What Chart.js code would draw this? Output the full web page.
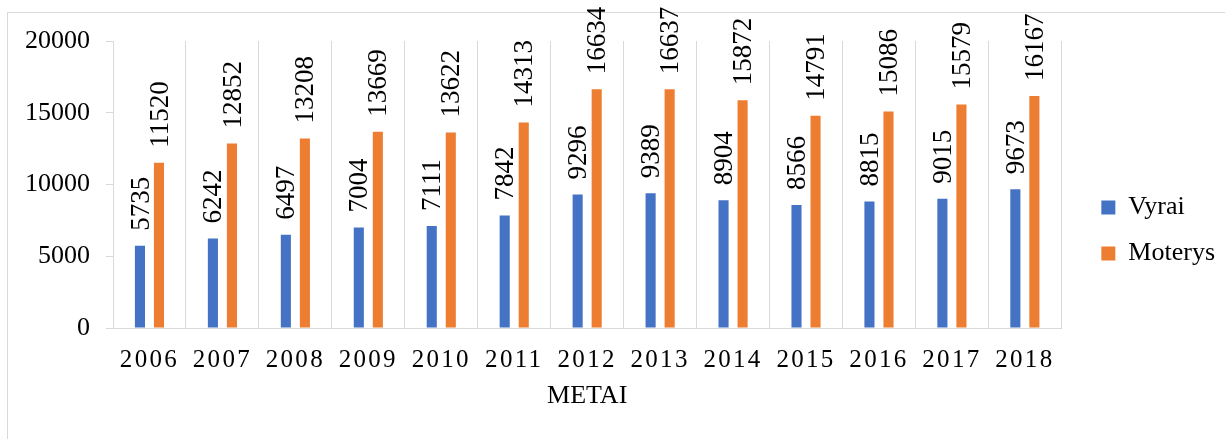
<!DOCTYPE html>
<html>
<head>
<meta charset="utf-8">
<script src="https://cdn.jsdelivr.net/npm/chart.js@4.4.1/dist/chart.umd.min.js"></script>
<style>
  html, body { margin: 0; padding: 0; background: #ffffff; }
  #wrap { position: absolute; left: 0; top: 0; width: 1225px; height: 439px; }
</style>
</head>
<body>
<div id="wrap"><canvas id="c" width="1225" height="439"></canvas></div>
<script>
const categories = ['2006','2007','2008','2009','2010','2011','2012','2013','2014','2015','2016','2017','2018'];
const vyrai   = [5735, 6242, 6497, 7004, 7111, 7842, 9296, 9389, 8904, 8566, 8815, 9015, 9673];
const moterys = [11520, 12852, 13208, 13669, 13622, 14313, 16634, 16637, 15872, 14791, 15086, 15579, 16167];
const seriesNames = ['Vyrai', 'Moterys'];
const yTicks = [0, 5000, 10000, 15000, 20000];
const xTitle = 'METAI';

const SERIF = '"Liberation Serif", "Times New Roman", serif';
const GRID = '#d9d9d9';

const frame = {
  id: 'frame',
  beforeDraw(chart) {
    const ctx = chart.ctx;
    ctx.save();
    ctx.fillStyle = '#ffffff';
    ctx.fillRect(0, 0, chart.width, chart.height);
    ctx.strokeStyle = GRID;
    ctx.lineWidth = 1;
    ctx.strokeRect(7.5, 12.5, 1400, 600);
    ctx.restore();
    // letter-spaced x tick labels
    const xs = chart.scales.x;
    if (xs && !xs._spacedPatched) {
      const orig = Object.getPrototypeOf(xs).drawLabels;
      xs.drawLabels = function (area) {
        const c = this.ctx;
        c.save();
        c.letterSpacing = '2.3px';
        orig.call(this, area);
        c.restore();
      };
      xs._spacedPatched = true;
    }
  }
};

const valueLabels = {
  id: 'valueLabels',
  afterDatasetsDraw(chart) {
    const ctx = chart.ctx;
    ctx.save();
    ctx.font = '27px ' + SERIF;
    ctx.fillStyle = '#000000';
    ctx.textAlign = 'left';
    ctx.textBaseline = 'middle';
    chart.data.datasets.forEach((ds, di) => {
      const meta = chart.getDatasetMeta(di);
      meta.data.forEach((bar, i) => {
        ctx.save();
        ctx.translate(bar.x + 1.5, bar.y - 15);
        ctx.rotate(-Math.PI / 2);
        ctx.fillText(String(ds.data[i]), 0, 0);
        ctx.restore();
      });
    });
    ctx.restore();
  }
};

new Chart(document.getElementById('c'), {
  type: 'bar',
  data: {
    labels: categories,
    datasets: [
      { label: seriesNames[0], data: vyrai, backgroundColor: '#4472C4', borderWidth: 0,
        categoryPercentage: 0.522, barPercentage: 0.53 },
      { label: seriesNames[1], data: moterys, backgroundColor: '#ED7D31', borderWidth: 0,
        categoryPercentage: 0.522, barPercentage: 0.53 }
    ]
  },
  options: {
    responsive: false,
    animation: false,
    devicePixelRatio: 1,
    layout: { padding: { left: 0, top: 41, right: 0, bottom: 19 } },
    plugins: {
      legend: {
        position: 'right',
        labels: {
          boxWidth: 14, boxHeight: 14, padding: 20, color: '#000000',
          font: { family: SERIF, size: 26, lineHeight: 1 }
        }
      },
      tooltip: { enabled: false }
    },
    scales: {
      x: {
        grid: { offset: true, drawTicks: false, color: GRID, lineWidth: 1 },
        border: { display: true, color: GRID },
        ticks: { color: '#000000', font: { family: SERIF, size: 25 }, padding: 17, maxRotation: 0, autoSkip: false },
        title: { display: true, text: xTitle, color: '#000000', font: { family: SERIF, size: 26, lineHeight: 1.2 }, padding: { top: 4, bottom: 8 } },
        afterFit(s) { s.height = 92; }
      },
      y: {
        min: 0, max: 20000,
        afterBuildTicks(s) { s.ticks = yTicks.map(v => ({ value: v })); },
        grid: { drawOnChartArea: false, drawTicks: true, tickLength: 7, color: GRID },
        border: { display: true, color: GRID },
        ticks: { color: '#000000', font: { family: SERIF, size: 26 }, padding: 16,
                 callback: (v) => String(v) },
        afterFit(s) { s.width = 113; }
      },
      y2: {
        position: 'right',
        display: true,
        grid: { display: false, drawTicks: false },
        border: { display: false },
        ticks: { display: false },
        afterFit(s) { s.width = 20; }
      }
    }
  },
  plugins: [frame, valueLabels]
});
</script>
</body>
</html>
